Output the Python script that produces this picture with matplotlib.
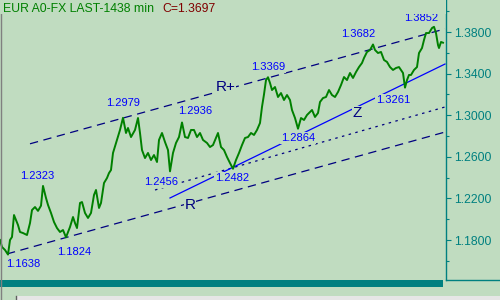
import matplotlib
matplotlib.use("Agg")
import matplotlib.pyplot as plt
from matplotlib.patches import Rectangle
from matplotlib.lines import Line2D
from matplotlib.ticker import FixedLocator, FormatStrFormatter

plt.rcParams['font.family'] = ['Liberation Sans', 'DejaVu Sans']
plt.rcParams['lines.scale_dashes'] = False

BG = '#C0DCC0'
TEAL = '#008080'
NAVY = '#000080'
BLUE = '#0000FF'
GREEN = '#008000'

# ---- price series (day index, price) ----
day = [0, 2, 5, 8, 10, 12, 14, 16, 18, 20, 23, 27, 30, 32, 35, 38, 41, 43, 46, 48,
       51, 54, 57, 60, 63, 66, 70, 73, 75, 77, 80, 82, 85, 88, 91, 94, 96, 99, 101, 104,
       107, 109, 111, 113, 117, 120, 123, 126, 128, 131, 135, 138, 140, 142, 145, 148, 151, 154, 157, 159,
       162, 165, 168, 170, 173, 176, 179, 182, 185, 188, 191, 194, 197, 200, 203, 207, 210, 213, 216, 218,
       221, 224, 227, 230, 233, 236, 239, 242, 245, 248, 251, 254, 257, 260, 262, 264, 266, 268, 270, 272,
       275, 278, 281, 284, 287, 290, 292, 295, 298, 301, 304, 307, 310, 312, 315, 318, 320, 323, 326, 329,
       332, 335, 338, 341, 344, 347, 350, 353, 356, 359, 362, 364, 367, 370, 373, 375, 378, 381, 384, 387,
       390, 393, 396, 399, 401, 403, 405, 407, 409, 411, 414, 417, 419, 422, 424, 426, 429, 432, 434, 436,
       438, 439, 441, 443]
price = [1.1800, 1.1733, 1.1704, 1.1660, 1.1800, 1.1829, 1.2040, 1.1992, 1.1944, 1.1877,
         1.1867, 1.1848, 1.1963, 1.2088, 1.2117, 1.2080, 1.2130, 1.2320, 1.2204, 1.2137,
         1.2060, 1.1973, 1.1915, 1.1877, 1.1896, 1.1826, 1.1925, 1.2021, 1.1963, 1.1915,
         1.2156, 1.2165, 1.2060, 1.2012, 1.2060, 1.2233, 1.2281, 1.2108, 1.2156, 1.2348,
         1.2396, 1.2444, 1.2473, 1.2637, 1.2762, 1.2858, 1.2975, 1.2829, 1.2877, 1.2790,
         1.2858, 1.2973, 1.2829, 1.2665, 1.2588, 1.2637, 1.2569, 1.2617, 1.2550, 1.2762,
         1.2829, 1.2742, 1.2665, 1.2460, 1.2637, 1.2733, 1.2790, 1.2930, 1.2790, 1.2781,
         1.2858, 1.2858, 1.2790, 1.2829, 1.2762, 1.2733, 1.2694, 1.2713, 1.2781, 1.2829,
         1.2694, 1.2665, 1.2598, 1.2540, 1.2485, 1.2569, 1.2637, 1.2713, 1.2781, 1.2790,
         1.2829, 1.2810, 1.2858, 1.2925, 1.3080, 1.3200, 1.3338, 1.3365, 1.3310, 1.3242,
         1.3271, 1.3175, 1.3213, 1.3146, 1.3194, 1.3146, 1.3050, 1.2973, 1.2870, 1.2973,
         1.2954, 1.3002, 1.3031, 1.3050, 1.2983, 1.3021, 1.3127, 1.3165, 1.3175, 1.3242,
         1.3194, 1.3175, 1.3223, 1.3290, 1.3367, 1.3338, 1.3406, 1.3358, 1.3415, 1.3463,
         1.3502, 1.3550, 1.3608, 1.3627, 1.3680, 1.3627, 1.3598, 1.3608, 1.3531, 1.3512,
         1.3463, 1.3435, 1.3454, 1.3463, 1.3435, 1.3406, 1.3265, 1.3338, 1.3387, 1.3387,
         1.3435, 1.3463, 1.3598, 1.3646, 1.3723, 1.3790, 1.3790, 1.3838, 1.3850, 1.3790,
         1.3675, 1.3646, 1.3704, 1.3697]

# ---- trend lines (day index endpoints, price endpoints) ----
rplus_x = [30, 445];  rplus_y = [1.2725, 1.3830]
r_x = [7, 445];       r_y = [1.1666, 1.2838]
mid_x = [155, 445];   mid_y = [1.2281, 1.3079]
z_x = [170, 445];     z_y = [1.2204, 1.3492]

# ---- pivot labels ----
piv_text = ['1.1638', '1.1824', '1.2323', '1.2456', '1.2482', '1.2979', '1.2936',
            '1.3369', '1.2864', '1.3682', '1.3261', '1.3852']
piv_x = [23, 74, 37, 161, 232, 123, 195, 268, 298, 358, 393, 421]
piv_y = [1.1569, 1.1685, 1.2415, 1.2358, 1.2396, 1.3117, 1.3040,
         1.3463, 1.2781, 1.3781, 1.3146, 1.3934]

line_names = ['R+', 'R', 'Z']
line_name_x = [226, 190, 357]
line_name_y = [1.3271, 1.2137, 1.3021]

# ---- axis ticks ----
major_ticks = [1.18, 1.22, 1.26, 1.30, 1.34, 1.38]
minor_ticks = [1.16, 1.20, 1.24, 1.28, 1.32, 1.36, 1.40]

fig = plt.figure(figsize=(5, 3), dpi=100, facecolor=BG)
ax = fig.add_axes([0, 20 / 300, 446 / 500, 280 / 300])
ax.set_facecolor(BG)
ax.set_xlim(0, 446)
ax.set_ylim(1.14154, 1.41077)

for s in ['left', 'top', 'bottom']:
    ax.spines[s].set_visible(False)
ax.spines['right'].set_color(TEAL)
ax.spines['right'].set_linewidth(1.0)

ax.set_xticks([])
ax.yaxis.tick_right()
ax.yaxis.set_major_locator(FixedLocator(major_ticks))
ax.yaxis.set_minor_locator(FixedLocator(minor_ticks))
ax.yaxis.set_major_formatter(FormatStrFormatter('%.4f'))
ax.tick_params(axis='y', which='major', colors=TEAL, length=3.6, width=0.8,
               pad=2, labelsize=8.7)
ax.tick_params(axis='y', which='minor', colors=TEAL, length=2.5, width=0.8)

# trend lines
ax.plot(rplus_x, rplus_y, color=NAVY, lw=0.9, dashes=(6, 4), zorder=2)
ax.plot(r_x, r_y, color=NAVY, lw=0.9, dashes=(6, 4), zorder=2)
ax.plot(mid_x, mid_y, color=NAVY, lw=0.9, dashes=(1.8, 3.2), zorder=2)
ax.plot(z_x, z_y, color=BLUE, lw=0.9, zorder=2)

# price
ax.plot(day, price, color=GREEN, lw=1.4, zorder=3)

# labels
for t, x, y in zip(piv_text, piv_x, piv_y):
    ax.text(x, y, t, color=BLUE, fontsize=8, ha='center', va='center', zorder=4,
            bbox=dict(facecolor=BG, edgecolor='none', pad=0.6))
for t, x, y in zip(line_names, line_name_x, line_name_y):
    ax.text(x, y, t, color=NAVY, fontsize=11, ha='center', va='center', zorder=4,
            bbox=dict(facecolor=BG, edgecolor='none', pad=0.3))

# top strip partially covering top label
fig.add_artist(Rectangle((0, 1 - 13.5 / 300), 445.5 / 500, 13.5 / 300,
                         transform=fig.transFigure, facecolor=BG, edgecolor='none', zorder=5))

# title
fig.text(3 / 500, 1 - 8.5 / 300, 'EUR A0-FX LAST-1438 min', color=GREEN, fontsize=8.8,
         ha='left', va='center', zorder=6)
fig.text(162 / 500, 1 - 8.5 / 300, 'C=1.3697', color='#800000', fontsize=8.8,
         ha='left', va='center', zorder=6)

# bottom decorations
fig.add_artist(Rectangle((0, 13 / 300), 443 / 500, 7 / 300, transform=fig.transFigure,
                         facecolor=TEAL, edgecolor='none'))
fig.add_artist(Line2D([446 / 500, 1], [20 / 300, 20 / 300], transform=fig.transFigure,
                      color=TEAL, lw=1.0))
fig.add_artist(Rectangle((16 / 500, 0), 484 / 500, 4 / 300, transform=fig.transFigure,
                         facecolor='#E6E6E6', edgecolor='none'))
fig.add_artist(Line2D([15.5 / 500, 15.5 / 500], [0, 4 / 300], transform=fig.transFigure,
                      color='#606060', lw=1.0))
fig.add_artist(Line2D([0.5 / 500, 0.5 / 500], [0, 1], transform=fig.transFigure,
                      color='#808080', lw=1.0))

fig.savefig('out.png', dpi=100, facecolor=BG)
